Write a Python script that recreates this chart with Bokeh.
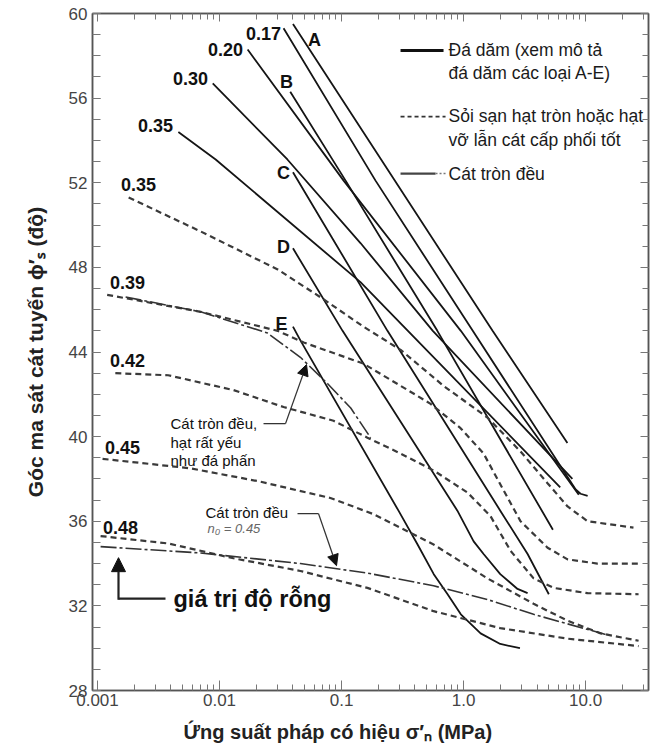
from bokeh.plotting import figure
from bokeh.models import (LogAxis, LinearAxis, FixedTicker, CustomJSTickFormatter,
                          Label, Arrow, NormalHead, Title)
from bokeh.embed import file_html
from bokeh.resources import INLINE

FONT = "Liberation Sans"

# ---------------- data (sigma'_n in MPa, phi'_s in degrees) ----------------
# Rockfill (solid lines)
A_x = [0.040, 1.73, 7.1]
A_y = [59.5, 45.0, 39.7]
n017_x = [0.0335, 0.19, 1.19, 8.3, 9.1, 10.4]
n017_y = [59.3, 52.1, 45.0, 37.5, 37.3, 37.2]
n020_x = [0.017, 0.104, 0.95, 8.8]
n020_y = [58.3, 52.1, 45.0, 37.25]
B_x = [0.038, 0.108, 0.61, 5.4]
B_y = [56.3, 52.1, 45.0, 35.6]
n030_x = [0.0088, 0.036, 0.143, 0.56, 7.8]
n030_y = [56.7, 53.1, 49.15, 45.0, 38.0]
n035_x = [0.0046, 0.0093, 0.143, 0.35, 6.2]
n035_y = [54.4, 53.1, 47.3, 45.0, 37.6]
C_x = [0.040, 0.238, 2.0, 3.35, 5.0]
C_y = [52.5, 45.0, 36.5, 34.45, 32.55]
D_x = [0.040, 0.102, 0.89, 1.21, 1.46, 2.0, 2.77, 3.35]
D_y = [48.9, 45.0, 36.5, 35.05, 34.45, 33.5, 32.8, 32.6]
E_x = [0.040, 0.046, 0.293, 0.42, 0.57, 0.74, 0.95, 1.38, 2.0, 2.9]
E_y = [45.2, 44.55, 36.5, 34.9, 33.5, 32.55, 31.6, 30.7, 30.2, 30.0]

# Gravel / well graded sand (dashed lines)
g035_x = [0.0018, 0.0070, 0.030, 0.071, 0.151, 0.305, 0.686, 1.57, 2.93, 4.88, 7.12, 10.4, 24.7]
g035_y = [51.3, 49.7, 47.9, 46.5, 45.2, 44.1, 42.4, 40.9, 39.3, 37.8, 36.7, 36.0, 35.7]
g039_x = [0.0012, 0.0070, 0.030, 0.049, 0.151, 0.305, 0.537, 0.945, 1.46, 2.0, 2.93, 4.88, 7.12, 12.5, 28.0]
g039_y = [46.7, 45.9, 45.0, 44.45, 43.45, 42.4, 41.55, 40.4, 39.2, 37.75, 36.0, 34.75, 34.2, 34.0, 34.0]
g042_x = [0.0014, 0.0038, 0.013, 0.0335, 0.086, 0.163, 0.305, 0.568, 1.08, 1.66, 2.43, 3.75, 5.47, 10.4, 27.2]
g042_y = [43.0, 42.9, 42.2, 41.4, 40.75, 39.95, 39.2, 38.4, 37.35, 36.25, 34.6, 33.3, 32.85, 32.6, 32.55]
g045_x = [0.0011, 0.0058, 0.0205, 0.081, 0.18, 0.568, 1.57, 3.75, 7.12, 13.3, 27.2]
g045_y = [38.95, 38.5, 37.9, 37.1, 36.35, 34.9, 33.3, 32.1, 31.3, 30.7, 30.35]
g048_x = [0.00106, 0.0038, 0.013, 0.046, 0.163, 0.568, 2.0, 7.12, 27.2]
g048_y = [35.3, 34.95, 34.25, 33.65, 32.85, 31.75, 30.95, 30.45, 30.1]

# Uniform sand (dash-dot lines)
chalk_x = [0.0017, 0.0070, 0.0247, 0.046, 0.077, 0.119, 0.173]
chalk_y = [46.6, 45.9, 44.9, 43.75, 42.5, 41.35, 39.95]
sand_x = [0.00106, 0.0070, 0.046, 0.163, 0.568, 1.57, 3.75, 7.12, 14.6]
sand_y = [34.8, 34.5, 34.0, 33.55, 32.95, 32.3, 31.6, 31.15, 30.65]

# Axis ticks
x_ticks = [0.001, 0.01, 0.1, 1.0, 10.0]
x_tick_labels = ["0.001", "0.01", "0.1", "1.0", "10.0"]
y_ticks = [28, 32, 36, 40, 44, 48, 52, 56, 60]

# ---------------- figure ----------------
p = figure(width=651, height=755, x_axis_type="log",
           x_range=(0.00091, 32.8), y_range=(28, 60),
           output_backend="svg", toolbar_location=None,
           min_border_left=92, min_border_right=3, min_border_top=13, min_border_bottom=65,
           background_fill_color="white", border_fill_color="white")
p.grid.visible = False
p.outline_line_color = "#555555"
p.outline_line_width = 1.5

x_minor = [m * 10.0 ** e for e in range(-3, 2) for m in range(2, 10)]
y_minor = list(range(28, 61))

fmt = CustomJSTickFormatter(args=dict(vals=x_ticks, labs=x_tick_labels), code="""
for (let i = 0; i < vals.length; i++) {
  if (Math.abs(Math.log10(vals[i]) - Math.log10(tick)) < 1e-6) return labs[i];
}
return '';
""")

xa = p.xaxis[0]
xa.ticker = FixedTicker(ticks=x_ticks, minor_ticks=x_minor)
xa.formatter = fmt
ya = p.yaxis[0]
ya.ticker = FixedTicker(ticks=y_ticks, minor_ticks=y_minor)

for ax in (xa, ya):
    ax.axis_line_color = "#555555"
    ax.axis_line_width = 1.5
    ax.major_tick_out = 0
    ax.minor_tick_out = 0
    ax.major_tick_line_color = "#777777"
    ax.minor_tick_line_color = "#777777"
    ax.major_label_text_font = FONT
    ax.major_label_text_font_size = "17px"
    ax.major_label_text_color = "#444444"

xa.major_tick_in = 10
xa.minor_tick_in = 6
xa.major_label_standoff = 3
ya.major_tick_in = 8
ya.minor_tick_in = 8
ya.major_label_standoff = 5

blank = CustomJSTickFormatter(code="return '';")
top = LogAxis(ticker=FixedTicker(ticks=x_ticks, minor_ticks=x_minor), formatter=blank)
right = LinearAxis(ticker=FixedTicker(ticks=y_ticks, minor_ticks=y_minor), formatter=blank)
for ax in (top, right):
    ax.axis_line_color = "#555555"
    ax.axis_line_width = 1.5
    ax.major_tick_out = 0
    ax.minor_tick_out = 0
    ax.major_tick_in = 8
    ax.minor_tick_in = 6
    ax.major_tick_line_color = "#777777"
    ax.minor_tick_line_color = "#777777"
    ax.major_label_text_font_size = "2px"
    ax.major_label_standoff = 0
p.add_layout(top, "above")
p.add_layout(right, "right")

# axis titles (as side titles so that they can be shifted like the reference)
ytitle = Title(text="Góc ma sát cát tuyến ϕ′ₛ (độ)", align="center", offset=-113,
               text_font=FONT, text_font_size="21px", text_font_style="bold",
               text_color="#222222")
xtitle = Title(text="Ứng suất pháp có hiệu  σ′ₙ (MPa)", align="left", offset=91,
               text_font=FONT, text_font_size="20px", text_font_style="bold",
               text_color="#222222")
try:
    ytitle.standoff = 38
    xtitle.standoff = 20
except Exception:
    pass
p.add_layout(ytitle, "left")
p.add_layout(xtitle, "below")

# ---------------- curves ----------------
SOLID = dict(line_color="#151515", line_width=1.8)
DASH = dict(line_color="#3a3a3a", line_width=2.2, line_dash="6 4")
DDOT = dict(line_color="#333333", line_width=1.6, line_dash="16 3 3 3")

for xs, ys in [(A_x, A_y), (n017_x, n017_y), (n020_x, n020_y), (B_x, B_y),
               (n030_x, n030_y), (n035_x, n035_y), (C_x, C_y), (D_x, D_y), (E_x, E_y)]:
    p.line(xs, ys, **SOLID)
for xs, ys in [(g035_x, g035_y), (g039_x, g039_y), (g042_x, g042_y),
               (g045_x, g045_y), (g048_x, g048_y)]:
    p.line(xs, ys, **DASH)
for xs, ys in [(chalk_x, chalk_y), (sand_x, sand_y)]:
    p.line(xs, ys, **DDOT)

# ---------------- annotations (positions given as reference pixels) ----------------
def X(px):
    return 10 ** ((px - 463) / 122)

def Y(py):
    return 60 - (py - 13) / 21.15

def txt(s, px, py, size="18px", style="bold", align="center", color="#111111"):
    p.add_layout(Label(x=X(px), y=Y(py), text=s, text_font=FONT, text_font_size=size,
                       text_font_style=style, text_align=align, text_baseline="middle",
                       text_color=color))

for s, px, py in [("0.17", 263, 33), ("A", 314, 39), ("0.20", 225, 49), ("B", 286, 81),
                  ("0.30", 190, 78), ("0.35", 155, 125), ("C", 283, 172), ("0.35", 138, 184),
                  ("D", 283, 246), ("0.39", 127, 282), ("E", 281, 323), ("0.42", 127, 360),
                  ("0.45", 122, 447), ("0.48", 120, 527)]:
    txt(s, px, py)

# legend
LEG = "17.5px"
p.add_layout(Arrow(end=None, x_start=X(400), y_start=Y(50), x_end=X(443), y_end=Y(50),
                   line_color="#111111", line_width=3.2))
txt("Đá dăm (xem mô tả", 448, 49, LEG, "normal", "left", "#1a1a1a")
txt("đá dăm các loại A-E)", 448, 72, LEG, "normal", "left", "#1a1a1a")
p.add_layout(Arrow(end=None, x_start=X(400), y_start=Y(116), x_end=X(445), y_end=Y(116),
                   line_color="#333333", line_width=1.8, line_dash="4 3"))
txt("Sỏi sạn hạt tròn hoặc hạt", 448, 115, LEG, "normal", "left", "#1a1a1a")
txt("vỡ lẫn cát cấp phối tốt", 448, 139, LEG, "normal", "left", "#1a1a1a")
p.add_layout(Arrow(end=None, x_start=X(400), y_start=Y(173), x_end=X(435), y_end=Y(173),
                   line_color="#444444", line_width=2.2))
p.add_layout(Arrow(end=None, x_start=X(435), y_start=Y(173), x_end=X(445), y_end=Y(173),
                   line_color="#777777", line_width=1.5, line_dash="2 2"))
txt("Cát tròn đều", 448, 173, LEG, "normal", "left", "#1a1a1a")

# chalk annotation
for s, py in [("Cát tròn đều,", 423), ("hạt rất yếu", 442), ("như  đá phấn", 460)]:
    txt(s, 170, py, "15px", "normal", "left", "#111111")
p.add_layout(Arrow(end=None, x_start=X(263), y_start=Y(423), x_end=X(285), y_end=Y(423),
                   line_color="#333333", line_width=1.3))
p.add_layout(Arrow(end=NormalHead(size=11, fill_color="#111111", line_color="#111111"),
                   x_start=X(285), y_start=Y(423), x_end=X(306), y_end=Y(364),
                   line_color="#333333", line_width=1.3))

# uniform sand annotation
txt("Cát tròn đều", 205, 512, "15px", "normal", "left", "#111111")
txt("n₀ = 0.45", 207, 528, "13px", "italic", "left", "#666666")
p.add_layout(Arrow(end=None, x_start=X(297), y_start=Y(513), x_end=X(318), y_end=Y(513),
                   line_color="#333333", line_width=1.3))
p.add_layout(Arrow(end=NormalHead(size=11, fill_color="#111111", line_color="#111111"),
                   x_start=X(318), y_start=Y(513), x_end=X(336), y_end=Y(565),
                   line_color="#333333", line_width=1.3))

# void ratio annotation
txt("giá trị độ rỗng", 173, 598, "23.5px", "bold", "left", "#111111")
p.add_layout(Arrow(end=None, x_start=X(165), y_start=Y(598), x_end=X(118), y_end=Y(598),
                   line_color="#222222", line_width=2.2))
p.add_layout(Arrow(end=NormalHead(size=14, fill_color="#111111", line_color="#111111"),
                   x_start=X(118), y_start=Y(599), x_end=X(118), y_end=Y(557),
                   line_color="#222222", line_width=2.2))

open("out.html", "w").write(file_html(p, INLINE))
